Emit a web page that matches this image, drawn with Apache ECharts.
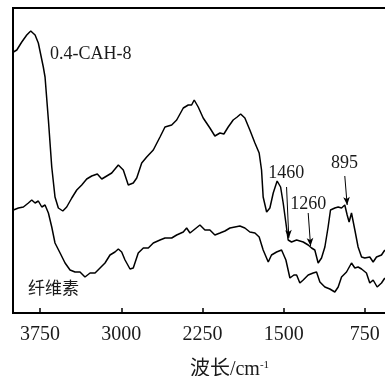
<!DOCTYPE html>
<html>
<head>
<meta charset="utf-8">
<script src="https://cdn.jsdelivr.net/npm/echarts@6/dist/echarts.min.js"></script>
<style>
  html, body { margin: 0; padding: 0; overflow: hidden; background: #fff; }
  #main { width: 460px; height: 376px; }
</style>
</head>
<body>
<div id="main"></div>
<script>
// wavenumber (cm-1) and relative transmittance
const cahX = [3996, 3965, 3919, 3873, 3836, 3796, 3766, 3720, 3704, 3673, 3642, 3612, 3581, 3540, 3504, 3457,
  3411, 3365, 3319, 3273, 3221, 3180, 3134, 3088, 3027, 2981, 2935, 2889, 2857, 2811, 2765, 2704, 2642, 2596,
  2534, 2488, 2427, 2381, 2350, 2326, 2289, 2243, 2181, 2135, 2088, 2052, 2012, 1966, 1929, 1897, 1858, 1812,
  1765, 1726, 1704, 1689, 1657, 1627, 1596, 1560, 1528, 1504, 1479, 1458, 1427, 1380, 1319, 1273, 1242, 1212,
  1181, 1150, 1119, 1089, 1067, 1027, 996, 965, 935, 913, 895, 873, 842, 812, 780, 750, 704, 673, 642, 596, 565];
const cahY = [261, 263, 271, 278, 282, 278, 270, 246, 236, 193, 146, 116, 105, 102, 106, 115,
  123, 128, 134, 137, 139, 134, 137, 140, 148, 143, 128, 130, 135, 150, 156, 163, 176, 186,
  188, 193, 205, 208, 208, 213, 206, 195, 185, 177, 180, 179, 186, 193, 196, 199, 195, 183,
  170, 160, 143, 116, 101, 105, 120, 132, 126, 110, 90, 73, 71, 73, 71, 68, 65, 63,
  50, 55, 66, 86, 103, 105, 106, 105, 108, 98, 91, 100, 83, 66, 56, 55, 56, 51, 56, 58, 63];

const celX = [3996, 3950, 3904, 3858, 3827, 3796, 3766, 3734, 3704, 3673, 3642, 3612, 3565, 3519, 3473, 3427,
  3381, 3335, 3288, 3242, 3196, 3150, 3104, 3058, 3027, 2996, 2965, 2919, 2889, 2843, 2796, 2750, 2704, 2642,
  2596, 2534, 2488, 2427, 2396, 2365, 2319, 2273, 2227, 2181, 2135, 2088, 2042, 1996, 1950, 1904, 1858, 1812,
  1765, 1726, 1689, 1642, 1612, 1565, 1519, 1479, 1442, 1405, 1380, 1350, 1319, 1273, 1227, 1196, 1165, 1119,
  1073, 1027, 996, 965, 919, 873, 842, 812, 780, 735, 704, 673, 636, 596, 565];
const celY = [103, 105, 106, 110, 113, 110, 112, 106, 108, 100, 86, 70, 60, 50, 43, 41,
  41, 36, 40, 40, 45, 50, 58, 61, 64, 61, 53, 44, 45, 60, 65, 65, 70, 73,
  75, 75, 78, 81, 85, 80, 84, 88, 83, 83, 78, 80, 82, 85, 86, 87, 85, 81,
  80, 76, 63, 51, 58, 61, 63, 53, 35, 38, 38, 30, 33, 38, 40, 41, 31, 26,
  24, 21, 26, 36, 41, 50, 45, 46, 44, 40, 30, 33, 26, 30, 35];

const seriesNames = ['0.4-CAH-8', '纤维素'];
const xTicks = [3750, 3000, 2250, 1500, 750];

// peak marks: label, arrow start [x, y], arrow tip [x, y]
const peakLabels = ['1460', '1260', '895'];
const peakFrom = [[1473, 126], [1273, 100], [935, 137]];
const peakTo = [[1452, 75], [1251, 67], [913, 108]];
const peakLabelGap = [5, 0, 4];

const serif = "'Liberation Serif', 'Noto Sans CJK SC', serif";

const myChart = echarts.init(document.getElementById('main'), null, { renderer: 'canvas' });

const option = {
  animation: false,
  grid: {
    left: 13,
    top: 8,
    width: 433,
    bottom: 63,
    outerBoundsMode: 'none',
    show: true,
    borderColor: '#000',
    borderWidth: 2,
    backgroundColor: 'transparent',
  },
  xAxis: {
    type: 'value',
    inverse: true,
    min: 0,
    max: 4000,
    interval: 750,
    axisLine: { lineStyle: { color: '#000', width: 2 } },
    axisTick: { inside: true, length: 5, lineStyle: { color: '#000', width: 1.5 } },
    splitLine: { show: false },
    axisLabel: {
      margin: 12,
      color: '#1a1a1a',
      fontFamily: serif,
      fontSize: 20,
      formatter: (v) => (xTicks.includes(v) ? String(v) : ''),
    },
    name: '波长/cm{sup|-1}',
    nameLocation: 'middle',
    nameGap: 47,
    nameMoveOverlap: false,
    nameTextStyle: {
      color: '#1a1a1a',
      fontFamily: serif,
      fontSize: 20,
      rich: {
        sup: { fontFamily: serif, fontSize: 11, verticalAlign: 'top', color: '#1a1a1a', padding: [0, 0, 8, 0] },
      },
    },
  },
  yAxis: {
    type: 'value',
    min: 0,
    max: 305,
    axisLine: { show: true, lineStyle: { color: '#000', width: 2 } },
    axisTick: { show: false },
    axisLabel: { show: false },
    splitLine: { show: false },
  },
  graphic: [
    {
      type: 'text', left: 50, top: 45,
      style: { text: seriesNames[0], font: '18px ' + serif, fill: '#1a1a1a' },
    },
    {
      type: 'text', left: 28, top: 281,
      style: { text: seriesNames[1], font: '17px ' + serif, fill: '#1a1a1a' },
    },
  ],
  series: [
    {
      name: seriesNames[0],
      type: 'line',
      data: cahX.map((x, i) => [x, cahY[i]]),
      symbol: 'none',
      lineStyle: { color: '#000', width: 1.5 },
      markLine: {
        silent: true,
        symbol: ['none', 'arrow'],
        symbolSize: [5, 8],
        lineStyle: { color: '#000', width: 1, type: 'solid' },
        label: {
          position: 'start',
          formatter: '{b}',
          color: '#1a1a1a',
          fontFamily: serif,
          fontSize: 18,
        },
        data: peakLabels.map((name, i) => [
          { name: name, coord: peakFrom[i], label: { distance: peakLabelGap[i] } },
          { coord: peakTo[i] },
        ]),
      },
    },
    {
      name: seriesNames[1],
      type: 'line',
      data: celX.map((x, i) => [x, celY[i]]),
      symbol: 'none',
      lineStyle: { color: '#000', width: 1.5 },
    },
  ],
};

myChart.setOption(option);
</script>
</body>
</html>
